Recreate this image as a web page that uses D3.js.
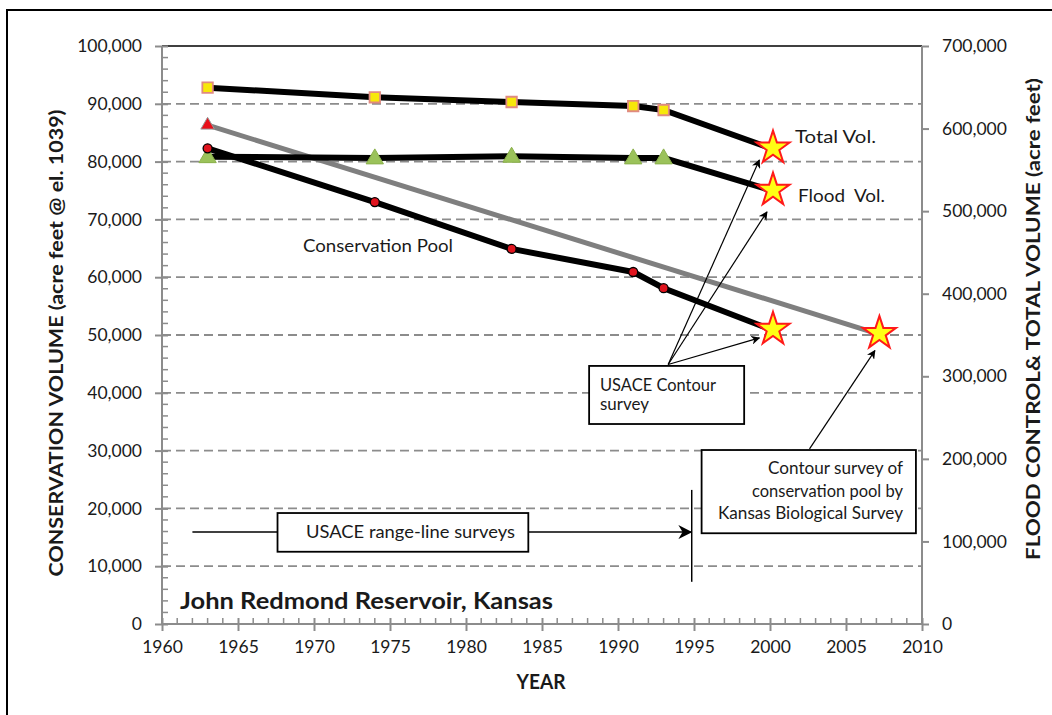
<!DOCTYPE html>
<html><head><meta charset="utf-8">
<script src="https://cdn.jsdelivr.net/npm/d3@7"></script>
<style>body{margin:0;background:#fff} text{font-family:Lato,"Open Sans",sans-serif;fill:#1a1a1a}</style>
</head><body><svg id="c" width="1052" height="715"></svg>
<script>
// ---- data ----
const years = [1963, 1974, 1983, 1991, 1993, 2000];
const totalVolume = [649500, 637900, 632200, 627300, 622500, 576500];
const floodVolume = [566000, 564500, 566500, 564500, 564500, 525600];
const conservationPool = [82300, 73000, 64900, 60900, 58100, 51000];
const trendYears = [1963, 2007];
const trendValues = [86300, 50300];
const leftTicks = [0, 10000, 20000, 30000, 40000, 50000, 60000, 70000, 80000, 90000, 100000];
const rightTicks = [0, 100000, 200000, 300000, 400000, 500000, 600000, 700000];
const yearTicks = [1960, 1965, 1970, 1975, 1980, 1985, 1990, 1995, 2000, 2005, 2010];

const svg = d3.select('#c');
const x = d3.scaleLinear().domain([1960, 2010]).range([162, 922]);
const yL = d3.scaleLinear().domain([0, 100000]).range([624, 46]);
const yR = d3.scaleLinear().domain([0, 700000]).range([624, 46]);
const fmt = d3.format(',');

function fit(sel, w) { sel.attr('textLength', w).attr('lengthAdjust', 'spacingAndGlyphs'); return sel; }

// defs
const defs = svg.append('defs');
defs.append('marker').attr('id', 'arr').attr('viewBox', '0 0 10 10').attr('refX', 9).attr('refY', 5)
  .attr('markerWidth', 9).attr('markerHeight', 9).attr('markerUnits', 'userSpaceOnUse').attr('orient', 'auto')
  .append('path').attr('d', 'M0,0 L10,5 L0,10 L3,5 Z').attr('fill', '#000');
defs.append('marker').attr('id', 'arr2').attr('viewBox', '0 0 10 10').attr('refX', 9).attr('refY', 5)
  .attr('markerWidth', 14).attr('markerHeight', 14).attr('markerUnits', 'userSpaceOnUse').attr('orient', 'auto')
  .append('path').attr('d', 'M0,0 L10,5 L0,10 L3,5 Z').attr('fill', '#000');

// outer frame
svg.append('path').attr('d', 'M7,740 V10 H1070').attr('fill', 'none').attr('stroke', '#000').attr('stroke-width', 2);

// gridlines
svg.append('g').selectAll('line').data(leftTicks.filter(d => d > 0 && d < 100000)).join('line')
  .attr('x1', x(1960)).attr('x2', x(2010)).attr('y1', d => yL(d)).attr('y2', d => yL(d))
  .attr('stroke', '#8c8c8c').attr('stroke-width', 1.8).attr('stroke-dasharray', '9,5');

// top border
svg.append('line').attr('x1', x(1960)).attr('x2', x(2010)).attr('y1', yL(100000)).attr('y2', yL(100000))
  .attr('stroke', '#000').attr('stroke-width', 1.5);

// left axis
const gL = svg.append('g').attr('transform', `translate(${x(1960)},0)`)
  .call(d3.axisLeft(yL).tickValues(leftTicks).tickFormat(fmt).tickSize(7).tickPadding(13));
gL.selectAll('.tick line').attr('x1', 6);
gL.selectAll('line,path').attr('stroke', '#8c8c8c').attr('stroke-width', 2);
gL.select('.domain').attr('d', `M0,${yL(0)}V${yL(100000)}`);
gL.selectAll('text').attr('font-size', 17.5).attr('font-family', 'Lato').attr('fill', '#1a1a1a');
svg.append('g').selectAll('line').data(d3.range(2000, 100000, 2000).filter(d => d % 10000)).join('line')
  .attr('x1', x(1960)).attr('x2', x(1960) + 6).attr('y1', d => yL(d)).attr('y2', d => yL(d))
  .attr('stroke', '#8c8c8c').attr('stroke-width', 1.5);

// right axis
const gR = svg.append('g').attr('transform', `translate(${x(2010)},0)`)
  .call(d3.axisRight(yR).tickValues(rightTicks).tickFormat(fmt).tickSize(7).tickPadding(13));
gR.selectAll('line,path').attr('stroke', '#8c8c8c').attr('stroke-width', 2);
gR.select('.domain').attr('d', `M0,${yR(0)}V${yR(700000)}`);
gR.selectAll('text').attr('font-size', 17.5).attr('font-family', 'Lato').attr('fill', '#1a1a1a');

// bottom axis
const gB = svg.append('g').attr('transform', `translate(0,${yL(0)})`)
  .call(d3.axisBottom(x).tickValues(yearTicks).tickFormat(d3.format('d')).tickSize(7).tickPadding(10));
gB.selectAll('.tick line').attr('y1', -6);
gB.selectAll('line,path').attr('stroke', '#8c8c8c').attr('stroke-width', 2);
gB.select('.domain').attr('d', `M${x(1960)},0H${x(2010)}`);
gB.selectAll('text').attr('font-size', 17.5).attr('font-family', 'Lato').attr('fill', '#1a1a1a');
svg.append('g').selectAll('line').data(d3.range(1961, 2010).filter(d => d % 5)).join('line')
  .attr('x1', d => x(d)).attr('x2', d => x(d)).attr('y1', yL(0)).attr('y2', yL(0) - 6)
  .attr('stroke', '#8c8c8c').attr('stroke-width', 1.5);

// axis titles
fit(svg.append('text').attr('transform', `translate(63,${(yL(0) + yL(100000)) / 2 + 8}) rotate(-90)`)
  .attr('text-anchor', 'middle').attr('font-weight', 'bold').attr('font-size', 18).attr('fill', '#000')
  .text('CONSERVATION VOLUME (acre feet @ el. 1039)'), 467);
fit(svg.append('text').attr('transform', `translate(1040,319) rotate(-90)`)
  .attr('text-anchor', 'middle').attr('font-weight', 'bold').attr('font-size', 18).attr('fill', '#000')
  .text('FLOOD CONTROL& TOTAL VOLUME (acre feet)'), 482);
fit(svg.append('text').attr('x', 541).attr('y', 689).attr('text-anchor', 'middle')
  .attr('font-weight', 'bold').attr('font-size', 20).attr('fill', '#000').text('YEAR'), 49);
fit(svg.append('text').attr('x', 180).attr('y', 609).attr('font-weight', 'bold').attr('font-size', 23).attr('fill', '#000')
  .text('John Redmond Reservoir, Kansas'), 373);

// series lines
const lineR = d3.line().x(d => x(d[0])).y(d => yR(d[1]));
const lineL = d3.line().x(d => x(d[0])).y(d => yL(d[1]));
svg.append('path').datum(d3.zip(trendYears, trendValues)).attr('d', lineL)
  .attr('fill', 'none').attr('stroke', '#7f7f7f').attr('stroke-width', 5);
svg.append('path').datum(d3.zip(years, totalVolume)).attr('d', lineR)
  .attr('fill', 'none').attr('stroke', '#000').attr('stroke-width', 6).attr('stroke-linejoin', 'round');
svg.append('path').datum(d3.zip(years, floodVolume)).attr('d', lineR)
  .attr('fill', 'none').attr('stroke', '#000').attr('stroke-width', 6).attr('stroke-linejoin', 'round');
svg.append('path').datum(d3.zip(years, conservationPool)).attr('d', lineL)
  .attr('fill', 'none').attr('stroke', '#000').attr('stroke-width', 6).attr('stroke-linejoin', 'round');

// markers
const star = d3.symbol(d3.symbolStar, 340);
const last = years.length - 1;
const mk = svg.append('g');
// flood triangles
mk.selectAll('.ft').data(d3.zip(years, floodVolume).slice(0, last)).join('path')
  .attr('transform', d => `translate(${x(d[0])},${yR(d[1]) + 1})`)
  .attr('d', d3.symbol(d3.symbolTriangle, 130)).attr('fill', '#9bc25a').attr('stroke', '#8ab04a').attr('stroke-width', 1);
// conservation circles
mk.selectAll('.cc').data(d3.zip(years, conservationPool).slice(0, last)).join('circle')
  .attr('cx', d => x(d[0])).attr('cy', d => yL(d[1])).attr('r', 4.5)
  .attr('fill', '#e0141e').attr('stroke', '#000').attr('stroke-width', 1.3);
// trend start triangle
mk.append('path').attr('transform', `translate(${x(trendYears[0])},${yL(trendValues[0])})`)
  .attr('d', d3.symbol(d3.symbolTriangle, 80)).attr('fill', '#e8101a').attr('stroke', '#9a9a9a').attr('stroke-width', 1);
// total squares
mk.selectAll('.ts').data(d3.zip(years, totalVolume).slice(0, last)).join('path')
  .attr('transform', d => `translate(${x(d[0])},${yR(d[1])})`)
  .attr('d', d3.symbol(d3.symbolSquare, 110)).attr('fill', '#f7e80a').attr('stroke', '#e08a80').attr('stroke-width', 1.8);
// stars
const starPts = [
  [x(years[last]), yR(totalVolume[last])],
  [x(years[last]), yR(floodVolume[last])],
  [x(years[last]), yL(conservationPool[last])],
  [x(trendYears[1]), yL(trendValues[1])]
];
mk.selectAll('.st').data(starPts).join('path')
  .attr('transform', d => `translate(${d[0] + 3},${d[1]})`)
  .attr('d', star).attr('fill', '#ffff14').attr('stroke', '#ff1a1a').attr('stroke-width', 2);

// series labels
fit(svg.append('text').attr('x', 795).attr('y', 143).attr('font-size', 17).text('Total Vol.'), 81);
fit(svg.append('text').attr('x', 798).attr('y', 202).attr('font-size', 17).attr('xml:space', 'preserve').text('Flood  Vol.'), 87);
fit(svg.append('text').attr('x', 303).attr('y', 252).attr('font-size', 17).text('Conservation Pool'), 150);

// annotation: USACE Contour survey
const ann = svg.append('g');
const from = [x(1993.3), yL(44900)];
[[x(1999.3), yR(562000)], [x(1999.8), yL(71300)], [x(1999.3), yL(49500)]].forEach(p => {
  ann.append('line').attr('x1', from[0]).attr('y1', from[1]).attr('x2', p[0]).attr('y2', p[1])
    .attr('stroke', '#000').attr('stroke-width', 1.2).attr('marker-end', 'url(#arr)');
});
ann.append('rect').attr('x', x(1988.1)).attr('y', yL(44650)).attr('width', x(1998.3) - x(1988.1))
  .attr('height', yL(34600) - yL(44650)).attr('fill', '#fff').attr('stroke', '#000').attr('stroke-width', 1.8);
fit(ann.append('text').attr('x', 600).attr('y', 391).attr('font-size', 16.5).text('USACE Contour'), 116);
fit(ann.append('text').attr('x', 600).attr('y', 410).attr('font-size', 16.5).text('survey'), 49);

// annotation: Kansas Biological Survey
ann.append('line').attr('x1', x(2002.6)).attr('y1', yL(30300)).attr('x2', x(2006.9)).attr('y2', yL(47300))
  .attr('stroke', '#000').attr('stroke-width', 1.2).attr('marker-end', 'url(#arr)');
ann.append('rect').attr('x', x(1995.5)).attr('y', yL(30100)).attr('width', x(2009.6) - x(1995.5))
  .attr('height', yL(15700) - yL(30100)).attr('fill', '#fff').attr('stroke', '#000').attr('stroke-width', 1.8);
const kLines = ['Contour survey of', 'conservation pool by', 'Kansas Biological Survey'];
const kW = [135, 151, 185];
kLines.forEach((t, i) => {
  fit(ann.append('text').attr('x', 903).attr('y', 474 + i * 22.5).attr('text-anchor', 'end').attr('font-size', 16.5).text(t), kW[i]);
});

// annotation: USACE range-line surveys
ann.append('line').attr('x1', x(1962)).attr('y1', yL(15900)).attr('x2', x(1994.8)).attr('y2', yL(15900))
  .attr('stroke', '#000').attr('stroke-width', 1.5).attr('marker-end', 'url(#arr2)');
ann.append('line').attr('x1', x(1994.85)).attr('x2', x(1994.85)).attr('y1', yL(23200)).attr('y2', yL(7300))
  .attr('stroke', '#000').attr('stroke-width', 1.5);
ann.append('rect').attr('x', x(1967.6)).attr('y', yL(19200)).attr('width', x(1984.1) - x(1967.6))
  .attr('height', yL(12500) - yL(19200)).attr('fill', '#fff').attr('stroke', '#000').attr('stroke-width', 1.8);
fit(ann.append('text').attr('x', 306).attr('y', 538).attr('font-size', 16.5).text('USACE range-line surveys'), 209);
</script></body></html>
